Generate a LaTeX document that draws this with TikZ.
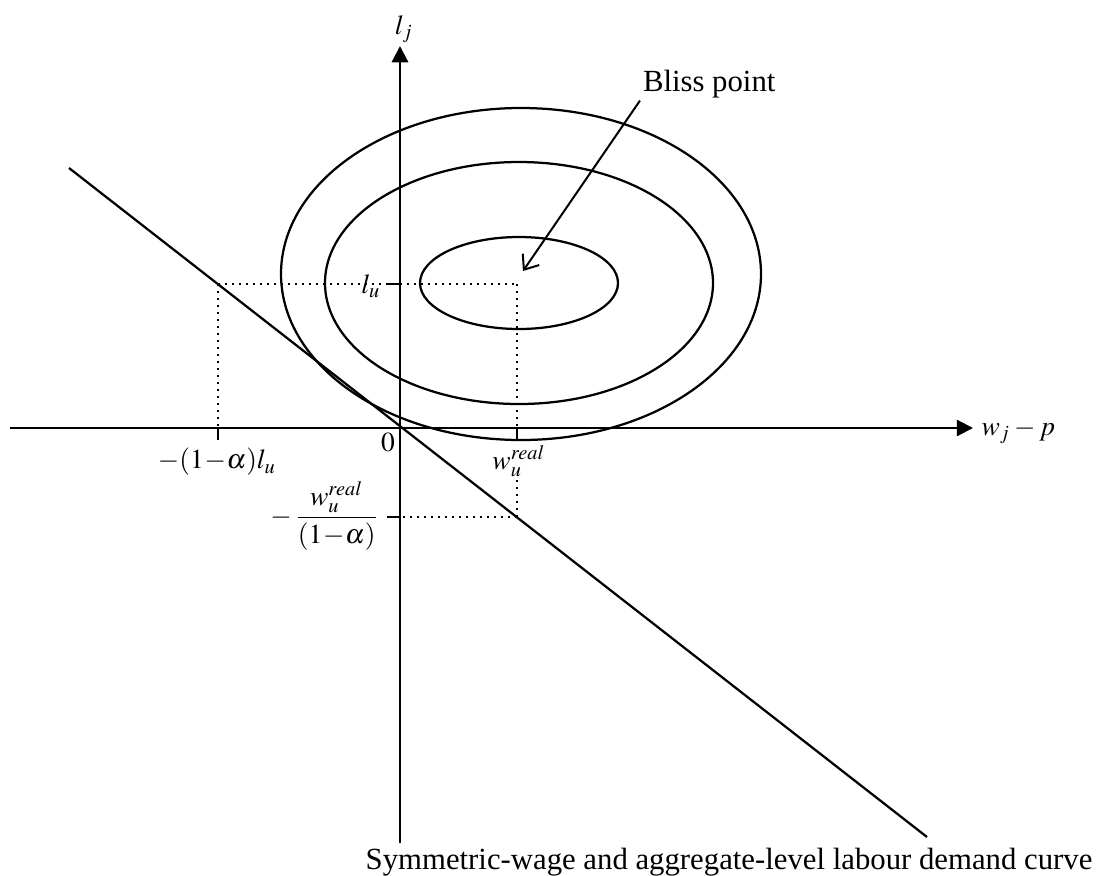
\documentclass[tikz,border=0pt]{standalone}
\usepackage{amsmath}
\usepackage{mathptmx}
\usepackage[no-math]{fontspec}
\setmainfont{Liberation Serif}
\usetikzlibrary{positioning, arrows.meta, calc}

\begin{document}
\begin{tikzpicture}[
  x=0.4pt, y=-0.4pt,
  every node/.style={font=\fontsize{12.3}{14}\selectfont, inner sep=1pt},
  axis/.style={-{Triangle[length=6.5pt, width=6.5pt]}, line width=0.9pt},
  curve/.style={line width=0.9pt},
  guide/.style={dotted, line width=0.8pt},
  tickmark/.style={line width=0.9pt},
  pointer/.style={-{Straight Barb[length=5pt, width=8pt]}, line width=0.8pt},
  lbl/.style={inner sep=0pt, font=\fontsize{11}{13}\selectfont},
  mask/.style={fill=white, inner sep=1.5pt}
]
\useasboundingbox (0,0) rectangle (1113,875);

%--- Axes ---
\coordinate (O) at (400,428);
\coordinate (xstart) at (10,428);
\coordinate (xend) at (973,428);
\coordinate (ystart) at (400,843);
\coordinate (yend) at (400,46);
\draw[axis] (xstart) -- (xend);
\draw[axis] (ystart) -- (yend);
\node[lbl, anchor=west] (xlab) at (981,432) {$w_{j}-p$};
\node[lbl] (ylab) at (404,29) {$l_{j}$};
\node[lbl] (zero) at (388,443) {$0$};

%--- Indifference ellipses around the bliss point ---
\coordinate (B) at (519,283);
\draw[curve] (519,283) ellipse [x radius=99, y radius=46];
\draw[curve] (519,283) ellipse [x radius=194, y radius=121];
\draw[curve] (521,274) ellipse [x radius=240, y radius=166];

%--- Demand curve ---
\coordinate (Dtop) at (69,168);
\coordinate (Dbot) at (927,837);
\coordinate (P1) at (218,284);
\coordinate (P2) at (517,517);
\draw[curve] (Dtop) -- (Dbot);

%--- Dotted guides ---
\draw[guide] (P1) -- (P1 -| B);
\draw[guide] (P1) -- (P1 |- O);
\draw[guide] (P1 -| P2) -- (P2);
\draw[guide] (P2) -- (P2 -| O);

%--- Ticks ---
\draw[tickmark] (P1 |- O) -- ++(0,12);
\draw[tickmark] (P2 |- O) -- ++(0,12);
\draw[tickmark] (P1 -| O) -- ++(-14,0);
\draw[tickmark] (P2 -| O) -- ++(-13,0);

%--- Tick labels ---
\node[lbl] (lu) at (371,286) {$l_{u}$};
\node[lbl] (alu) at (217,462) {$-(1\!-\!\alpha)l_{u}$};
\node[lbl, mask] (wu) at (519,461) {$w_{u}^{real}$};
\node[lbl, anchor=east] (wfrac) at (379,516) {$-\,\dfrac{w_{u}^{real}}{(1\!-\!\alpha)}$};

%--- Bliss point ---
\coordinate (tip) at (523,271);
\node[anchor=base west] (bliss) at (640,91) {Bliss point};
\draw[pointer] (bliss.south west) -- (tip);

%--- Caption ---
\node (caption) at (729,862) {Symmetric-wage and aggregate-level labour demand curve};

\end{tikzpicture}
\end{document}
